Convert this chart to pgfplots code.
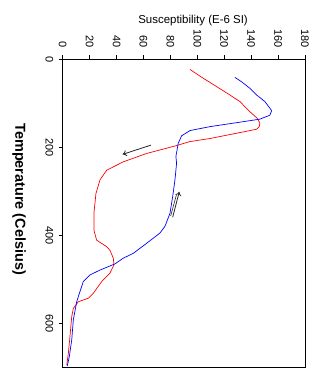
\documentclass[border=0pt]{standalone}
\usepackage{pgfplots}
\pgfplotsset{compat=1.18}
\usetikzlibrary{arrows.meta}
\usepackage{fontspec}
\setmainfont{Liberation Sans}
\begin{document}
\begin{tikzpicture}
\useasboundingbox (-62.7bp,-2.7bp) rectangle (257.3bp,367.3bp);
\begin{axis}[
  scale only axis,
  width=242.3bp, height=308bp,
  xmin=0, xmax=180, ymin=0, ymax=700,
  y dir=reverse,
  xtick={0,20,...,180},
  ytick={0,200,400,600},
  xtick pos=right, xticklabel pos=right,
  ytick pos=left,
  tick align=outside,
  major tick length=4bp,
  axis line style={line width=0.8bp},
  every tick/.style={black, line width=0.7bp},
  /pgf/number format/assume math mode=true,
  tick label style={font=\fontsize{11}{12}\selectfont},
  xticklabel style={yshift=4bp, rotate=-90, anchor=east},
  yticklabel style={xshift=-2bp, rotate=-90, anchor=north},
  xlabel={Susceptibility (E-6 SI)},
  ylabel={\textbf{Temperature (Celsius)}},
  every axis x label/.style={at={(axis description cs:0.538,1.126)}, anchor=center, font=\fontsize{11.5}{13}\selectfont},
  every axis y label/.style={at={(axis description cs:-0.18,0.546)}, anchor=center, rotate=-90, font=\fontsize{14.5}{16}\selectfont},
]
\addplot[red, line width=0.7bp] coordinates {
(94.5,23)(104.4,43)(114.3,62)(124.2,81)(131.6,96)(139.0,119)(144.5,134)(146.5,145)(146.0,153)(144.0,159)(129.2,168)(109.4,180)(94.5,187)(84.6,196)(62.4,214)(45,233)(32.7,252)(27.7,274)(24.7,305)(23.2,350)(23.2,388)(25.2,411)(32.7,426)(35.1,434)(37.6,452)(38.1,467)(35.1,486)(29,505)(22.7,532)(19,543)(11.6,551)(7.9,566)(6.7,585)(5.4,630)(4.2,668)(3,695)
};
\addplot[blue, line width=0.7bp] coordinates {
(127.9,41)(132.9,51)(139.1,66)(144.0,81)(150.2,96)(153.9,111)(155.2,117)(153.9,127)(146.5,136)(129.2,144)(109.4,153)(94.5,162)(88.3,174)(85.8,191)(84.1,221)(84.6,236)(83.4,274)(81.7,312)(79.7,350)(75.9,380)(72.2,395)(62.4,418)(52.4,441)(45,452)(38.8,465)(27.7,479)(20.3,490)(15.3,505)(12.8,528)(10.4,551)(7.9,592)(6.7,638)(4.9,676)(3.4,697)
};
\addplot[black!85, line width=0.8bp, -{To[length=4bp,width=6bp]}] coordinates {(65.6,195)(44.5,216)};
\addplot[black!85, line width=0.8bp, -{To[length=4bp,width=6bp]}] coordinates {(81.7,359)(86.6,301)};
\addplot[black!85, line width=0.6bp] coordinates {(80.2,356)(84.5,308)};
\end{axis}
\end{tikzpicture}
\end{document}
